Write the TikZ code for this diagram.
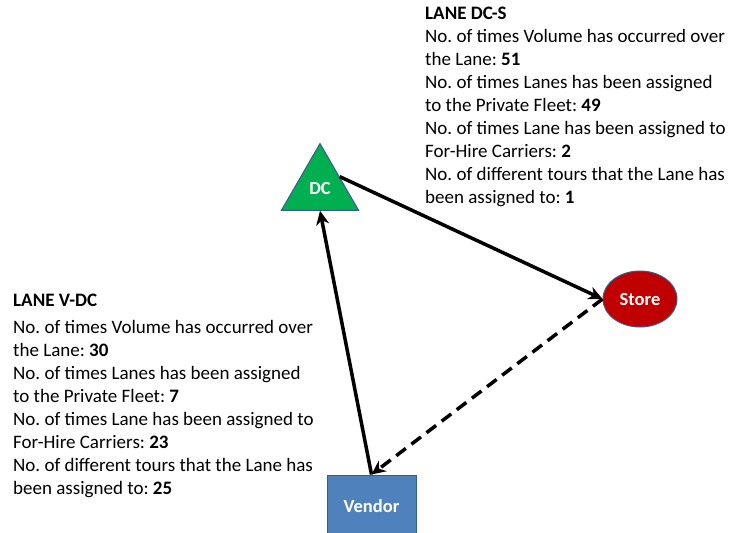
\documentclass[tikz,border=0pt]{standalone}
\usepackage{fontspec}
\setmainfont{Carlito}
\usepackage{xcolor}
\usetikzlibrary{arrows.meta, positioning, shapes.geometric}

\definecolor{dcgreen}{HTML}{00B050}
\definecolor{storered}{HTML}{C00000}
\definecolor{vendorblue}{HTML}{4F81BD}
\definecolor{rim}{HTML}{385D8A}

\tikzset{
  site/.style={draw=rim, line width=1pt, text=white, inner sep=0pt,
    font=\fontsize{18.5}{20}\selectfont\bfseries},
  lane/.style={line width=3.5pt, -{Stealth[length=14pt,width=13pt,inset=4.5pt]}},
  info/.style={anchor=north west, inner sep=0pt, align=left,
    font=\fontsize{19}{23}\selectfont\frenchspacing}
}

\begin{document}
\begin{tikzpicture}[x=1pt, y=-1pt]
  \useasboundingbox (0,0) rectangle (729,533);
  \clip (0,0) rectangle (729,533);

  % Sites
  \node[site, regular polygon, regular polygon sides=3, minimum size=89pt,
    fill=dcgreen] (dc) at (320,188) {DC};
  \node[site, ellipse, minimum width=74pt, minimum height=56pt,
    fill=storered] (store) at (640,299) {Store};
  \node[site, rectangle, minimum width=89pt, minimum height=62pt,
    fill=vendorblue] (vendor) at (371.5,506) {Vendor};

  % Lanes
  \draw[lane] (dc.side 3) -- (store.west);
  \draw[lane] (vendor.north) -- (dc.side 2);
  \draw[lane, dash pattern=on 12pt off 7pt] (store.west) -- (vendor.north);

  % Lane figures
  \node[info] (dcs) at (425,7) {\textbf{LANE DC-S}\\
    No. of times Volume has occurred over\\
    the Lane: \textbf{51}\\
    No. of times Lanes has been assigned\\
    to the Private Fleet: \textbf{49}\\
    No. of times Lane has been assigned to\\
    For-Hire Carriers: \textbf{2}\\
    No. of different tours that the Lane has\\
    been assigned to: \textbf{1}};
  \node[info] (vdc) at (13,294) {\textbf{LANE V-DC}\\[4pt]
    No. of times Volume has occurred over\\
    the Lane: \textbf{30}\\
    No. of times Lanes has been assigned\\
    to the Private Fleet: \textbf{7}\\
    No. of times Lane has been assigned to\\
    For-Hire Carriers: \textbf{23}\\
    No. of different tours that the Lane has\\
    been assigned to: \textbf{25}};
\end{tikzpicture}
\end{document}
